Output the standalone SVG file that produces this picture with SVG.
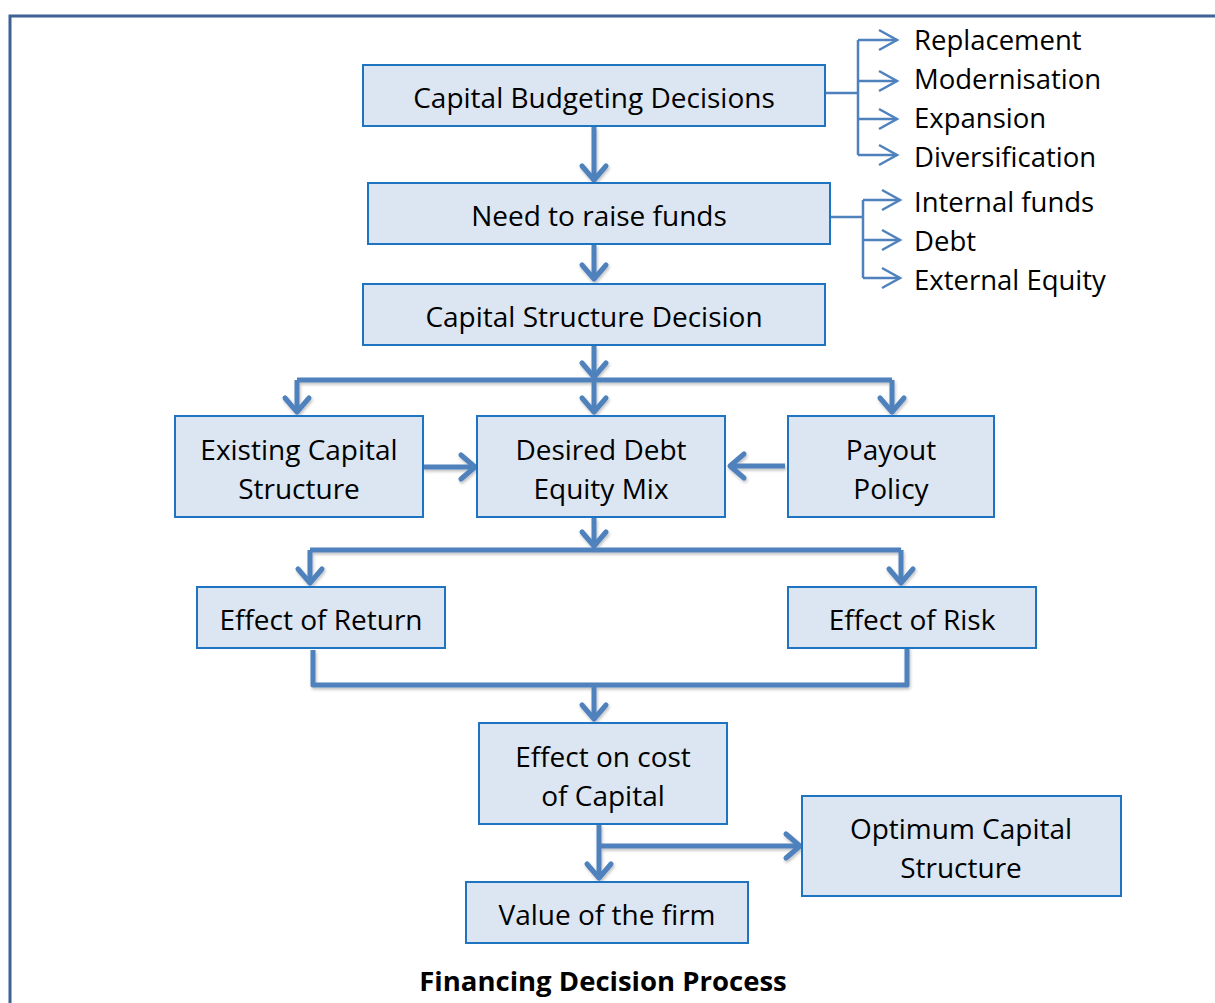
<svg xmlns="http://www.w3.org/2000/svg" width="1215" height="1003" viewBox="0 0 1215 1003">
<style>
.box{fill:#dce6f2;stroke:#1f74c2;stroke-width:2}
.t{font-family:"Open Sans","Noto Sans","Liberation Sans",sans-serif;font-size:28px;fill:#000;text-anchor:middle}
.s{font-family:"Open Sans","Noto Sans","Liberation Sans",sans-serif;font-size:27.5px;fill:#000}
.c{fill:none;stroke:#4f81bd;stroke-width:5;stroke-linejoin:round}
.n{fill:none;stroke:#4f81bd;stroke-width:2.5}
</style>
<defs>
<marker id="ah" markerUnits="userSpaceOnUse" markerWidth="40" markerHeight="40" orient="auto" overflow="visible">
<path d="M-14,-12 L0,0 L-14,12" fill="none" stroke="#4f81bd" stroke-width="5" stroke-linejoin="round" stroke-linecap="round"/>
</marker>
<marker id="as" markerUnits="userSpaceOnUse" markerWidth="40" markerHeight="40" orient="auto" overflow="visible">
<path d="M-18,-10 L0,0 L-18,10" fill="none" stroke="#4f81bd" stroke-width="2.5"/>
</marker>
<filter id="sh" x="-10%" y="-10%" width="120%" height="130%">
<feDropShadow dx="1" dy="2" stdDeviation="1.5" flood-color="#000" flood-opacity="0.25"/>
</filter>
</defs>
<rect x="10" y="16" width="1220" height="1000" fill="none" stroke="#3e6393" stroke-width="3"/>

<g id="connectors">
<g filter="url(#sh)">
<path class="c" d="M594,127 V180" marker-end="url(#ah)"/>
<path class="c" d="M594,245 V279" marker-end="url(#ah)"/>
<path class="c" d="M594,346 V377" marker-end="url(#ah)"/>
<path class="c" d="M297,380 H892"/>
<path class="c" d="M297,380 V412" marker-end="url(#ah)"/>
<path class="c" d="M594,380 V412" marker-end="url(#ah)"/>
<path class="c" d="M892,380 V412" marker-end="url(#ah)"/>
<path class="c" d="M423,467 H475" marker-end="url(#ah)"/>
<path class="c" d="M785,466 H730" marker-end="url(#ah)"/>
<path class="c" d="M594,518 V546" marker-end="url(#ah)"/>
<path class="c" d="M310,550 H901"/>
<path class="c" d="M310,550 V583" marker-end="url(#ah)"/>
<path class="c" d="M901,550 V583" marker-end="url(#ah)"/>
<path class="c" d="M313,650 V685 H907 V647"/>
<path class="c" d="M594,685 V719" marker-end="url(#ah)"/>
<path class="c" d="M599,825 V878" marker-end="url(#ah)"/>
<path class="c" d="M599,846 H800" marker-end="url(#ah)"/>
</g>
<path class="n" d="M825,93 H858 M858,40 V155"/>
<path class="n" d="M858,40 H897" marker-end="url(#as)"/>
<path class="n" d="M858,81 H897" marker-end="url(#as)"/>
<path class="n" d="M858,119 H897" marker-end="url(#as)"/>
<path class="n" d="M858,155 H897" marker-end="url(#as)"/>
<path class="n" d="M830,217 H863 M863,200 V278"/>
<path class="n" d="M863,200 H900" marker-end="url(#as)"/>
<path class="n" d="M863,240 H900" marker-end="url(#as)"/>
<path class="n" d="M863,278 H900" marker-end="url(#as)"/>
</g>

<g id="n1"><rect class="box" x="363" y="65" width="462" height="61"/><text class="t" x="594" y="108">Capital Budgeting Decisions</text></g>
<g id="n2"><rect class="box" x="368" y="183" width="462" height="61"/><text class="t" x="599" y="226">Need to raise funds</text></g>
<g id="n3"><rect class="box" x="363" y="284" width="462" height="61"/><text class="t" x="594" y="327">Capital Structure Decision</text></g>
<g id="n4"><rect class="box" x="175" y="416" width="248" height="101"/><text class="t" x="299" y="460">Existing Capital</text><text class="t" x="299" y="499">Structure</text></g>
<g id="n5"><rect class="box" x="477" y="416" width="248" height="101"/><text class="t" x="601" y="460">Desired Debt</text><text class="t" x="601" y="499">Equity Mix</text></g>
<g id="n6"><rect class="box" x="788" y="416" width="206" height="101"/><text class="t" x="891" y="460">Payout</text><text class="t" x="891" y="499">Policy</text></g>
<g id="n7"><rect class="box" x="197" y="587" width="248" height="61"/><text class="t" x="321" y="630">Effect of Return</text></g>
<g id="n8"><rect class="box" x="788" y="587" width="248" height="61"/><text class="t" x="912" y="630">Effect of Risk</text></g>
<g id="n9"><rect class="box" x="479" y="723" width="248" height="101"/><text class="t" x="603" y="767">Effect on cost</text><text class="t" x="603" y="806">of Capital</text></g>
<g id="n10"><rect class="box" x="802" y="796" width="319" height="100"/><text class="t" x="961" y="839">Optimum Capital</text><text class="t" x="961" y="878">Structure</text></g>
<g id="n11"><rect class="box" x="466" y="882" width="282" height="61"/><text class="t" x="607" y="925">Value of the firm</text></g>

<g id="labels">
<text class="s" x="914" y="50">Replacement</text>
<text class="s" x="914" y="89">Modernisation</text>
<text class="s" x="914" y="128">Expansion</text>
<text class="s" x="914" y="167">Diversification</text>
<text class="s" x="914" y="212">Internal funds</text>
<text class="s" x="914" y="251">Debt</text>
<text class="s" x="914" y="290">External Equity</text>
</g>
<text id="title" x="603" y="991" text-anchor="middle" font-family="Open Sans, Noto Sans, Liberation Sans, sans-serif" font-size="27.5" font-weight="bold">Financing Decision Process</text>
</svg>
